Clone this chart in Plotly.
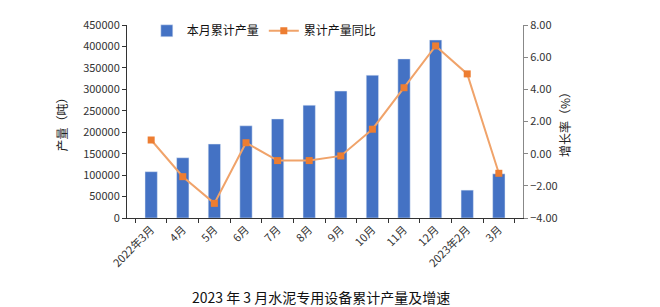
import plotly.graph_objects as go

categories = ["2022年3月", "4月", "5月", "6月", "7月", "8月", "9月", "10月", "11月", "12月", "2023年2月", "3月"]
production = [108000, 140500, 172500, 215000, 231000, 263000, 296000, 333000, 371000, 415000, 65000, 103000]
growth = [0.85, -1.43, -3.09, 0.68, -0.43, -0.43, -0.14, 1.52, 4.10, 6.70, 4.96, -1.22]

font_family = "Noto Sans CJK SC, DejaVu Sans, sans-serif"

fig = go.Figure()
fig.add_trace(go.Bar(
    x=categories, y=production, name="本月累计产量",
    marker=dict(color="#4472C4"), yaxis="y",
))
fig.add_trace(go.Scatter(
    x=categories, y=growth, name="累计产量同比", yaxis="y2",
    mode="lines+markers",
    line=dict(color="#F0A36A", width=2),
    marker=dict(symbol="square", size=7, color="#ED7D31"),
))

fig.update_layout(
    width=660, height=307,
    margin=dict(l=127, r=137, t=25, b=89, autoexpand=False),
    paper_bgcolor="white", plot_bgcolor="white",
    bargap=0.61,
    font=dict(family=font_family, size=11, color="#222"),
    showlegend=True,
    legend=dict(orientation="h", x=0.05, y=0.97, xanchor="left", yanchor="middle",
                font=dict(size=12, color="#111"), bgcolor="rgba(0,0,0,0)",
                itemwidth=30, tracegroupgap=0),
    xaxis=dict(
        type="category", tickangle=-45, showline=True, linecolor="#333", linewidth=1,
        ticks="outside", ticklen=4, tickcolor="#333", tickson="boundaries",
        tickfont=dict(size=11, color="#333"), showgrid=False,
    ),
    yaxis=dict(
        range=[0, 450000], dtick=50000, tickformat="d", showline=True, linecolor="#333",
        ticks="outside", ticklen=4, tickcolor="#333", showgrid=False, zeroline=False,
        tickfont=dict(size=11, color="#333"),
        title=dict(text="产量（吨）", font=dict(size=12, color="#222"), standoff=12),
    ),
    yaxis2=dict(
        range=[-4, 8], dtick=2, tickformat=".2f", overlaying="y", side="right",
        showline=True, linecolor="#888", ticks="outside", ticklen=4, tickcolor="#888",
        showgrid=False, zeroline=False, tickfont=dict(size=11, color="#333"),
        title=dict(text="增长率（%）", font=dict(size=12, color="#222"), standoff=4),
    ),
    annotations=[dict(
        text="2023 年 3 月水泥专用设备累计产量及增速", xref="paper", yref="paper",
        x=0.49, y=-0.41, xanchor="center", yanchor="middle", showarrow=False,
        font=dict(size=14, color="#111"),
    )],
)

fig.write_html("out.html")
